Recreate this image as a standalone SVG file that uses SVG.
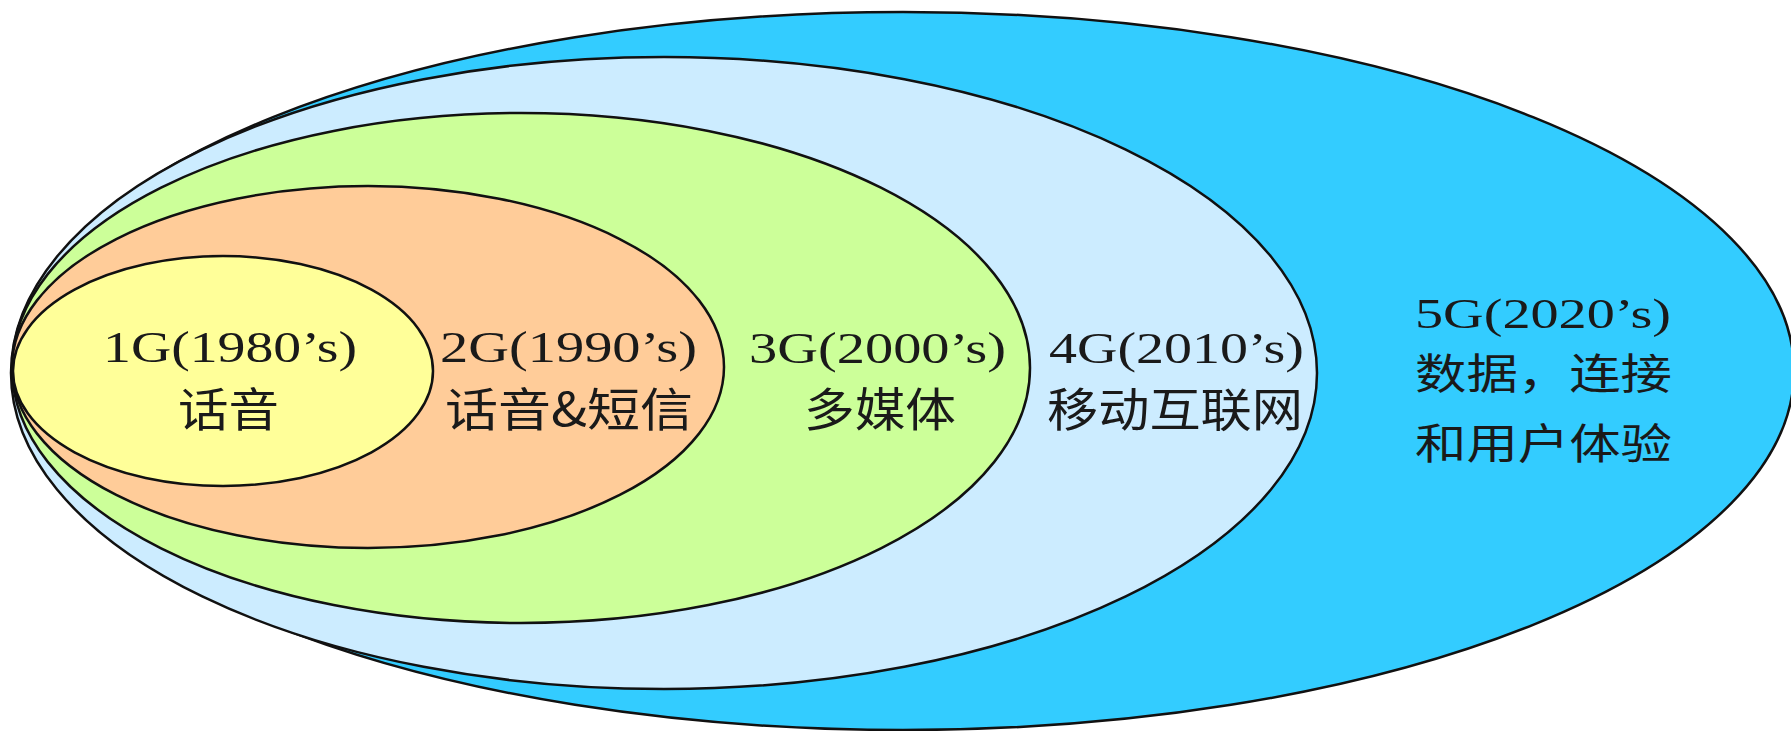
<svg xmlns="http://www.w3.org/2000/svg" width="1791" height="731" viewBox="0 0 1791 731">
<style>
.ring{stroke:#111;stroke-width:2.5}
.lat{font-family:"Liberation Serif","Times New Roman",serif;fill:#1a1a1a}
.cjk{font-family:"Noto Sans CJK SC","Noto Sans",sans-serif;fill:#1a1a1a}
</style>
<rect width="1791" height="731" fill="#fff"/>
<g id="node-5g">
<ellipse class="ring" cx="903" cy="371" rx="891" ry="359" fill="#33CCFF"/>
<text class="lat" x="1415" y="328" font-size="42" textLength="256" lengthAdjust="spacingAndGlyphs">5G(2020’s)</text>
<text class="cjk" x="1415" y="389" font-size="42" textLength="257" lengthAdjust="spacingAndGlyphs">数据，连接</text>
<text class="cjk" x="1415" y="459" font-size="42" textLength="257" lengthAdjust="spacingAndGlyphs">和用户体验</text>
</g>
<g id="node-4g">
<ellipse class="ring" cx="664" cy="373" rx="653" ry="316" fill="#CCECFF"/>
<text class="lat" x="1049" y="363" font-size="45" textLength="255" lengthAdjust="spacingAndGlyphs">4G(2010’s)</text>
<text class="cjk" x="1047" y="426" font-size="46" textLength="256" lengthAdjust="spacingAndGlyphs">移动互联网</text>
</g>
<g id="node-3g">
<ellipse class="ring" cx="521" cy="368" rx="509" ry="255" fill="#CCFF99"/>
<text class="lat" x="749" y="363" font-size="45" textLength="257" lengthAdjust="spacingAndGlyphs">3G(2000’s)</text>
<text class="cjk" x="804" y="426" font-size="46" textLength="152" lengthAdjust="spacingAndGlyphs">多媒体</text>
</g>
<g id="node-2g">
<ellipse class="ring" cx="368" cy="367" rx="356" ry="181" fill="#FFCC99"/>
<text class="lat" x="440" y="362" font-size="45" textLength="257" lengthAdjust="spacingAndGlyphs">2G(1990’s)</text>
<text class="cjk" x="445" y="426" font-size="46" textLength="248" lengthAdjust="spacingAndGlyphs">话音&amp;短信</text>
</g>
<g id="node-1g">
<ellipse class="ring" cx="223" cy="371" rx="210" ry="115" fill="#FFFF99"/>
<text class="lat" x="103" y="362" font-size="45" textLength="254" lengthAdjust="spacingAndGlyphs">1G(1980’s)</text>
<text class="cjk" x="178" y="426" font-size="46" textLength="101" lengthAdjust="spacingAndGlyphs">话音</text>
</g>
<g id="connectors"/>
</svg>
